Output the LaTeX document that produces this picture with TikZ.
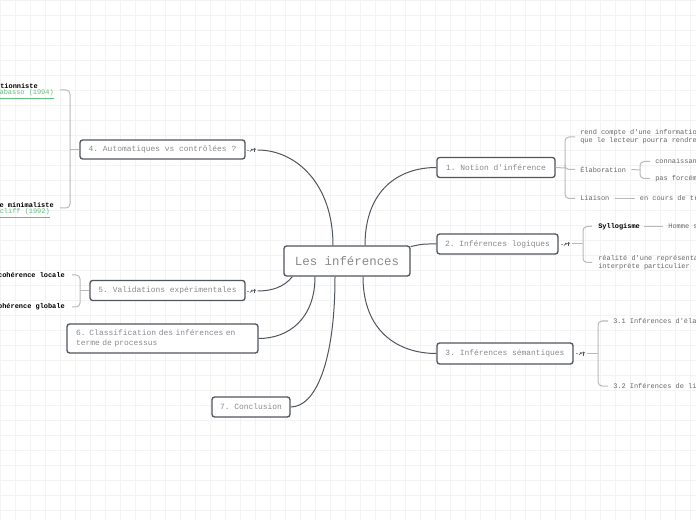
\documentclass[tikz,border=0pt]{standalone}
\usepackage{fontspec}
\setmonofont{Liberation Mono}
\usepackage{xcolor}
\usepackage{tikz}
\usetikzlibrary{shapes,arrows,positioning}

\definecolor{edgegray}{HTML}{50565D}
\definecolor{topicgray}{HTML}{8A8A8A}
\definecolor{leafgray}{HTML}{666666}
\definecolor{bracegray}{HTML}{BABABA}
\definecolor{gridgray}{HTML}{F3F3F3}
\definecolor{linkgreen}{HTML}{5FBF7C}

\begin{document}
\begin{tikzpicture}[x=0.75pt, y=-0.75pt, >=latex]
    \tikzstyle{topic} = [rectangle, rounded corners=2pt, draw=edgegray, line width=1pt, fill=white, text=topicgray, font=\ttfamily\fontsize{5.95}{7}\selectfont, inner sep=0pt, minimum height=15pt]
    \tikzstyle{central} = [topic, font=\ttfamily\fontsize{9.3}{11}\selectfont, minimum width=94.5pt, minimum height=22.5pt]
    \tikzstyle{leaf} = [text=leafgray, font=\ttfamily\fontsize{5.2}{6.3}\selectfont, inner sep=0pt, align=left]
    \tikzstyle{title} = [leaf, text=black, font=\ttfamily\bfseries\fontsize{5.2}{6.3}\selectfont]
    \tikzstyle{ref} = [leaf, text=linkgreen]
    \tikzstyle{branch} = [draw=edgegray, line width=0.75pt]
    \tikzstyle{brace} = [draw=bracegray, line width=0.75pt, rounded corners=3pt]
    \tikzstyle{fold} = [inner sep=0pt, minimum width=8pt, minimum height=5pt, path picture={
        \draw[edgegray!60, line width=0.35pt] ([xshift=0.2pt]path picture bounding box.west) -- ++(1.3pt,0);
        \draw[edgegray, line width=0.45pt] ([xshift=-1.6pt,yshift=-1.2pt]path picture bounding box.center) -- ++(1.8pt,1.8pt) -- ++(-1pt,0) ++(1pt,0) -- ++(0,-1pt);
        \fill[edgegray] ([xshift=1.9pt,yshift=0.5pt]path picture bounding box.center) circle (1pt);
        \draw[edgegray, line width=0.45pt] ([xshift=1.9pt]path picture bounding box.center) -- ++(0,-1.6pt);}]

    \useasboundingbox (0,0) rectangle (696,520);
    \clip (0,0) rectangle (696,520);
    \fill[white] (0,0) rectangle (696,520);
    \draw[gridgray, line width=0.3pt, step=11.25pt] (0,0) grid (696,520);

    % main topics
    \node[central] (root) at (347,261) {Les inférences};
    \node[topic, minimum width=88.5pt] (notion) at (496,167.5) {1. Notion d'inférence};
    \node[topic, minimum width=90.75pt] (logic) at (497.5,244) {2. Inférences logiques};
    \node[topic, minimum width=102pt, minimum height=15.75pt] (sem) at (505,353.5) {3. Inférences sémantiques};
    \node[topic, minimum width=123.75pt, minimum height=14.25pt] (auto) at (162.5,149.5) {4. Automatiques vs contrôlées ?};
    \node[topic, minimum width=116.25pt] (valid) at (167.5,290.5) {5. Validations expérimentales};
    \node[topic, minimum width=143.25pt, minimum height=21.75pt, text width=129.75pt] (classif) at (162.5,338.5) {6. Classification des inférences en\\terme de processus};
    \node[topic, minimum width=58.5pt] (concl) at (251,407) {7. Conclusion};

    \node[fold] (fold4) at (252,150) {};
    \node[fold] (fold5) at (252,291) {};
    \node[fold] (fold2) at (566,244) {};
    \node[fold] (fold3) at (581,353.5) {};

    \draw[branch] ([xshift=13.5pt]root.north) .. controls +(0,-55) and +(-38,0) .. (notion.west);
    \draw[branch] ([yshift=-1pt]root.north east) .. controls +(12,-3) and +(-12,0) .. (logic.west);
    \draw[branch] ([xshift=12pt]root.south) .. controls +(0,55) and +(-38,0) .. (sem.west);
    \draw[branch] ([xshift=-10.5pt]root.north) .. controls +(0,-62) and +(38,0) .. (fold4.east);
    \draw[branch] ([xshift=6.75pt]root.south west) .. controls +(-8,10) and +(15,0) .. (fold5.east);
    \draw[branch] ([xshift=-24pt]root.south) .. controls +(0,42) and +(30,0) .. (classif.east);
    \draw[branch] ([xshift=-9pt]root.south) .. controls +(0,85) and +(25,0) .. (concl.east);

    % 1. notion
    \node[leaf, anchor=west] (rend) at (580,137) {rend compte d'une informatio\\que le lecteur pourra rendre};
    \node[leaf, anchor=west] (elab) at (580,169.5) {Élaboration};
    \node[leaf, anchor=west] (liaison) at (580,198.5) {Liaison};
    \node[leaf, anchor=west] (conn) at (655,161.5) {connaissan};
    \node[leaf, anchor=west] (pasf) at (655,178.5) {pas forcém};
    \node[leaf, right=22.5pt of liaison] (cours) {en cours de tr};
    \coordinate (j1) at (565,168);
    \coordinate (j1b) at (640,170);
    \draw[brace] (notion.east) -- (j1);
    \draw[brace] ([xshift=-3.75pt]rend.west) -| (j1) |- ([xshift=-3.75pt]liaison.west);
    \draw[brace] (j1) |- ([xshift=-3.75pt]elab.west);
    \draw[brace] ([xshift=3.75pt]elab.east) -- (j1b);
    \draw[brace] ([xshift=-3.75pt]conn.west) -| (j1b) |- ([xshift=-3.75pt]pasf.west);
    \draw[brace] ([xshift=3.75pt]liaison.east) -- ([xshift=-3.75pt]cours.west);

    % 2. logiques
    \node[title, anchor=west] (syl) at (598,226.5) {Syllogisme};
    \node[leaf, right=21pt of syl] (homme) {Homme s};
    \node[leaf, anchor=west] (real) at (598,262.5) {réalité d'une représenta\\interprète particulier};
    \coordinate (j2) at (583,244);
    \draw[brace] (fold2.east) -- (j2);
    \draw[brace] ([xshift=-4.5pt]syl.west) -| (j2) |- ([xshift=-4.5pt]real.west);
    \draw[brace] ([xshift=3pt]syl.east) -- ([xshift=-3.75pt]homme.west);

    % 3. semantiques
    \node[leaf, anchor=west] (elabinf) at (613,321) {3.1 Inférences d'éla};
    \node[leaf, anchor=west] (liaisinf) at (613,386) {3.2 Inférences de li};
    \coordinate (j3) at (598,353.5);
    \draw[brace] (fold3.east) -- (j3);
    \draw[brace] ([xshift=-3.75pt]elabinf.west) -| (j3) |- ([xshift=-3.75pt]liaisinf.west);

    % 4. automatiques
    \node[title, anchor=east] (constr) at (38,86) {tionniste};
    \node[ref, anchor=east] (trab) at (54,94.5) {\underline{abasso (1994)}};
    \node[title, anchor=east] (minim) at (54,205) {e minimaliste};
    \node[ref, anchor=east] (ratc) at (50,213.5) {\underline{cliff (1992)}};
    \coordinate (j4) at (70,149.5);
    \coordinate (t4a) at (60,90);
    \coordinate (t4b) at (60,208);
    \draw[brace] (auto.west) -- (j4);
    \draw[brace] (t4a) -| (j4) |- (t4b);

    % 5. validations
    \node[title, anchor=east] (loc) at (65,275) {cohérence locale};
    \node[title, anchor=east] (glob) at (65,307) {cohérence globale};
    \coordinate (j5) at (80,290.5);
    \draw[brace] (valid.west) -- (j5);
    \draw[brace] ([xshift=5.25pt]loc.east) -| (j5) |- ([xshift=5.25pt]glob.east);
\end{tikzpicture}
\end{document}
